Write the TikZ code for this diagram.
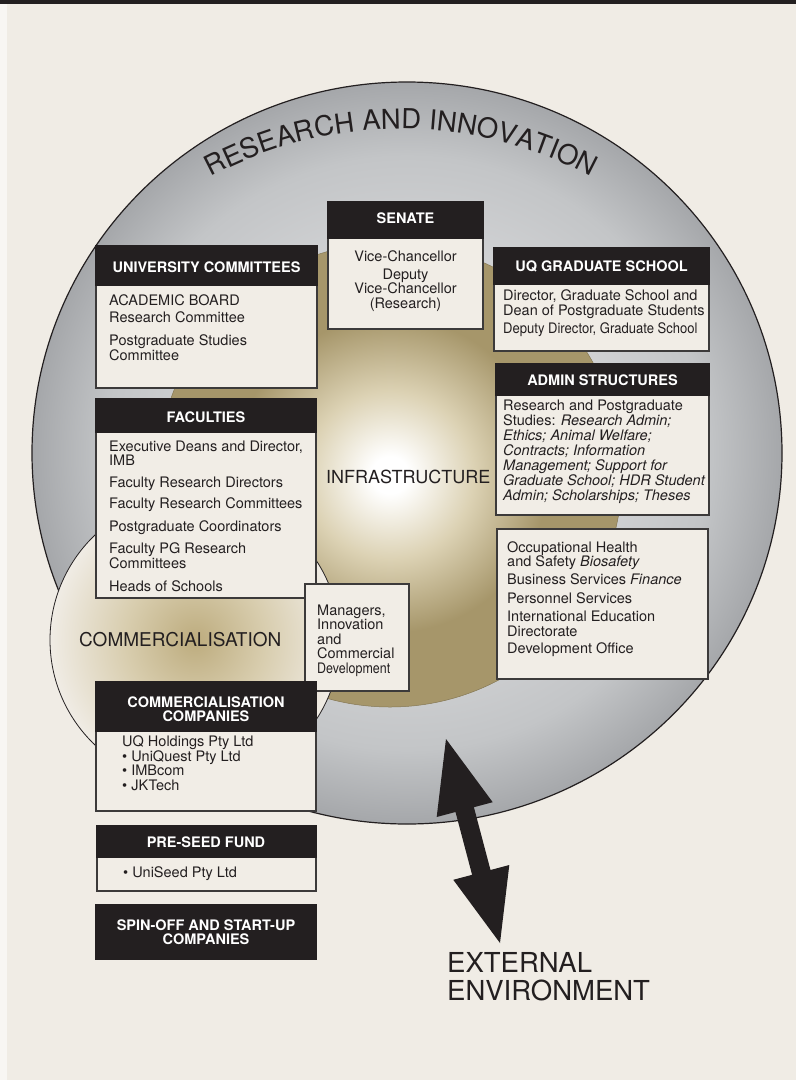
\documentclass[tikz,border=0pt]{standalone}
\usepackage{fontspec}
\setmainfont{TeX Gyre Heros}
\usetikzlibrary{decorations.text}

\definecolor{bg}{HTML}{F0ECE5}
\definecolor{strip}{HTML}{F8F6F3}
\definecolor{ink}{HTML}{231F20}
\definecolor{boxline}{HTML}{3C3A3A}
\definecolor{boxfill}{HTML}{F1EDE6}
\definecolor{greyin}{HTML}{D4D5D7}
\definecolor{greymid}{HTML}{C3C5C7}
\definecolor{greyout}{HTML}{A5A7AA}
\definecolor{goldmid}{HTML}{DCD2B4}
\definecolor{goldout}{HTML}{A6966A}
\definecolor{comin}{HTML}{BDAC7E}
\definecolor{commid}{HTML}{D8CDAE}

\pgfdeclareradialshading{greysh}{\pgfpoint{0bp}{0bp}}{color(0bp)=(greyin); color(12bp)=(greyin); color(20bp)=(greymid); color(25bp)=(greyout); color(50bp)=(greyout)}
\pgfdeclareradialshading{goldsh}{\pgfpoint{0bp}{0bp}}{color(0bp)=(white); color(2bp)=(white); color(9bp)=(goldmid); color(17bp)=(goldout); color(25bp)=(goldout); color(50bp)=(goldout)}
\pgfdeclareradialshading{comsh}{\pgfpoint{0bp}{0bp}}{color(0bp)=(comin); color(12bp)=(commid); color(25bp)=(bg); color(50bp)=(bg)}

\newcommand\bodyfont{\fontsize{14.5}{14.5}\selectfont}
\newcommand\hdrfont{\fontsize{14.5}{14}\selectfont\bfseries}
\newcommand\arcfont{\fontsize{27.5}{27.5}\selectfont}
\newcommand\bigfontx{\fontsize{27.5}{28}\selectfont}

\tikzset{
  box/.style={draw=boxline, line width=1.3pt, fill=boxfill, anchor=north west, inner sep=0pt, outer sep=0pt},
  hdr/.style={fill=ink, draw=ink, line width=1.3pt, anchor=north west, inner sep=0pt, outer sep=0pt},
  hdrtext/.style={text=white, font=\hdrfont, anchor=base, align=center, inner sep=0pt},
  bodytext/.style={text=ink, font=\bodyfont, anchor=base west, align=left, inner sep=0pt},
  centretext/.style={text=ink, font=\bodyfont, anchor=base, align=center, inner sep=0pt},
  biglabel/.style={text=ink, anchor=base west, align=left, inner sep=0pt}
}

\begin{document}
\begin{tikzpicture}[x=1pt,y=-1pt]
\useasboundingbox (0,0) rectangle (796,1080);
% background
\fill[bg] (0,0) rectangle (796,1080);
\fill[strip] (0,0) rectangle (7,1080);
\fill[ink] (0,0) rectangle (796,4);

% circles
\shade[shading=greysh] (407,453) ellipse[x radius=375, y radius=371];
\draw[ink, line width=1.2pt] (407,453) ellipse[x radius=375, y radius=371];
\shade[shading=goldsh] (390,475) circle[radius=232];
\draw[goldout!80!black, line width=0.5pt] (390,475) circle[radius=232];
\shade[shading=comsh] (195,640) circle[radius=145];
\draw[ink, line width=0.8pt] (195,640) circle[radius=145];

% arc label
\path[decorate, decoration={text along path, text align=center, text color=ink,
  text={|\arcfont|RESEARCH AND INNOVATION}}]
  (401,531) ++(200:402) arc[start angle=200, end angle=340, radius=402];

\node[biglabel, font=\fontsize{18}{18}\selectfont] (infra) at (326,483) {INFRASTRUCTURE};
\node[biglabel, font=\fontsize{19}{19}\selectfont] (comm) at (79,646) {COMMERCIALISATION};

% University committees
\node[box, minimum width=221pt, minimum height=142pt] (ucbox) at (96,246) {};
\node[hdr, minimum width=221pt, minimum height=39pt] (uchdr) at (96,246) {};
\node[hdrtext] (uctitle) at (206.5,272) {UNIVERSITY COMMITTEES};
\node[bodytext] (ucbody) at (109,360) {ACADEMIC BOARD\\[2.5pt]Research Committee\\[8.5pt]Postgraduate Studies\\Committee};

% Senate
\node[box, minimum width=155pt, minimum height=127pt] (senbox) at (328,202) {};
\node[hdr, minimum width=155pt, minimum height=36pt] (senhdr) at (328,202) {};
\node[hdrtext] (sentitle) at (405.5,223) {SENATE};
\node[centretext] (senbody) at (405.5,308) {Vice-Chancellor\\[3.5pt]Deputy\\Vice-Chancellor\\(Research)};

% UQ Graduate School
\node[box, minimum width=215pt, minimum height=103pt] (gsbox) at (494,248) {};
\node[hdr, minimum width=215pt, minimum height=36pt] (gshdr) at (494,248) {};
\node[hdrtext] (gstitle) at (601.5,271) {UQ GRADUATE SCHOOL};
\node[bodytext] (gsbody) at (503,333) {Director, Graduate School and\\Dean of Postgraduate Students\\[3.5pt]\scalebox{0.9}[1]{Deputy Director, Graduate School}};

% Admin structures
\node[box, minimum width=213pt, minimum height=151pt] (adbox) at (496,364) {};
\node[hdr, minimum width=213pt, minimum height=31pt] (adhdr) at (496,364) {};
\node[hdrtext] (adtitle) at (602.5,385) {ADMIN STRUCTURES};
\node[bodytext, font=\fontsize{14.5}{15}\selectfont] (adbody) at (503,500) {Research and Postgraduate\\Studies: \textit{Research Admin;}\\\textit{Ethics; Animal Welfare;}\\\textit{Contracts; Information}\\\textit{Management; Support for}\\\textit{Graduate School; HDR Student}\\\textit{Admin; Scholarships; Theses}};

% Faculties
\node[box, minimum width=220pt, minimum height=199pt] (facbox) at (96,399) {};
\node[hdr, minimum width=220pt, minimum height=33pt] (fachdr) at (96,399) {};
\node[hdrtext] (factitle) at (206,422) {FACULTIES};
\node[bodytext] (facbody) at (109,591) {Executive Deans and Director,\\IMB\\[7.5pt]Faculty Research Directors\\[6.5pt]Faculty Research Committees\\[8.5pt]Postgraduate Coordinators\\[7.5pt]Faculty PG Research\\Committees\\[8.5pt]Heads of Schools};

% Other administration
\node[box, minimum width=211pt, minimum height=150pt] (oabox) at (497,529) {};
\node[bodytext] (oabody) at (507,653) {Occupational Health\\and Safety \textit{Biosafety}\\[3.5pt]Business Services \textit{Finance}\\[4.5pt]Personnel Services\\[3.5pt]International Education\\Directorate\\[2.5pt]Development Office};

% Managers
\node[box, minimum width=104pt, minimum height=107pt] (mgbox) at (305,584) {};
\node[bodytext] (mgbody) at (317,673) {Managers,\\Innovation\\and\\Commercial\\\scalebox{0.86}[1]{Development}};

% Commercialisation companies
\node[box, minimum width=220pt, minimum height=129pt] (ccbox) at (96,682) {};
\node[hdr, minimum width=220pt, minimum height=49pt] (cchdr) at (96,682) {};
\node[hdrtext] (cctitle) at (206,721) {COMMERCIALISATION\\COMPANIES};
\node[bodytext] (ccbody) at (122,790) {UQ Holdings Pty Ltd\\\textbullet\ UniQuest Pty Ltd\\\textbullet\ IMBcom\\\textbullet\ JKTech};

% Pre-seed fund
\node[box, minimum width=219pt, minimum height=65pt] (psbox) at (97,826) {};
\node[hdr, minimum width=219pt, minimum height=31pt] (pshdr) at (97,826) {};
\node[hdrtext] (pstitle) at (206,847) {PRE-SEED FUND};
\node[bodytext] (psbody) at (123,877) {\textbullet\ UniSeed Pty Ltd};

% Spin-off
\node[hdr, minimum width=220pt, minimum height=54pt] (sohdr) at (96,905) {};
\node[hdrtext] (sotitle) at (206,944) {SPIN-OFF AND START-UP\\COMPANIES};

% External arrow (double-headed, drawn as one filled shape)
\coordinate (arrtop) at (446,739);
\coordinate (arrbot) at (500,943);
\fill[ink] (arrtop) -- (492.7,802.2) -- (473.9,807.2) -- (490.5,870.0) -- (509.3,865.0)
  -- (arrbot) -- (453.3,879.8) -- (472.1,874.8) -- (455.5,812.0) -- (436.7,817.0) -- cycle;
\node[biglabel, font=\bigfontx] (ext) at (447,1000) {EXTERNAL\\ENVIRONMENT};
\end{tikzpicture}
\end{document}
